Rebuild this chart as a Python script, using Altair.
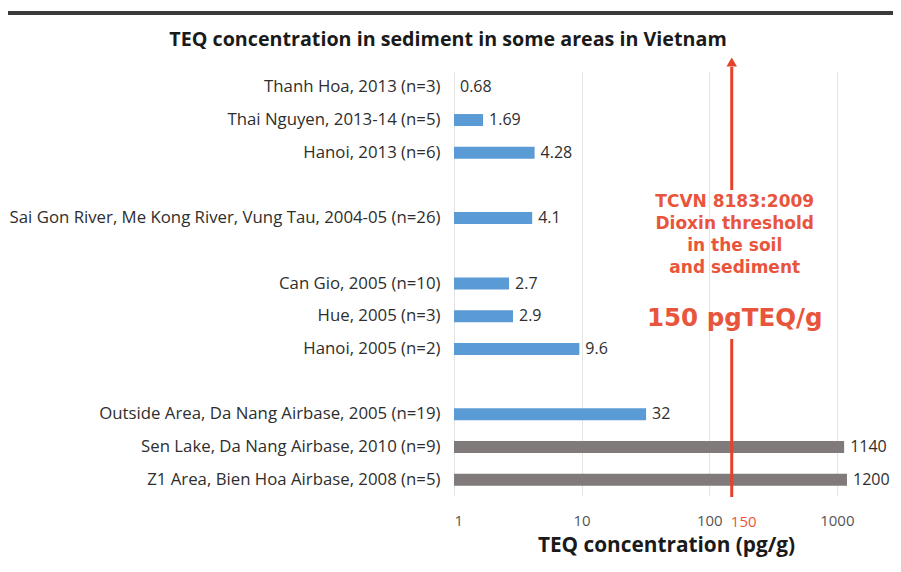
import altair as alt
import pandas as pd

categories = [
    "Thanh Hoa, 2013 (n=3)",
    "Thai Nguyen, 2013-14 (n=5)",
    "Hanoi, 2013 (n=6)",
    "Sai Gon River, Me Kong River, Vung Tau, 2004-05 (n=26)",
    "Can Gio, 2005 (n=10)",
    "Hue, 2005 (n=3)",
    "Hanoi, 2005 (n=2)",
    "Outside Area, Da Nang Airbase, 2005 (n=19)",
    "Sen Lake, Da Nang Airbase, 2010 (n=9)",
    "Z1 Area, Bien Hoa Airbase, 2008 (n=5)",
]
values = [0.68, 1.69, 4.28, 4.1, 2.7, 2.9, 9.6, 32, 1140, 1200]
value_labels = ["0.68", "1.69", "4.28", "4.1", "2.7", "2.9", "9.6", "32", "1140", "1200"]
groups = ["other"] * 8 + ["airbase"] * 2

# row order with blank spacer rows between groups
row_order = (categories[0:3] + [" "] + categories[3:4] + ["  "] +
             categories[4:7] + ["   "] + categories[7:10])

tick_values = [1, 10, 100, 1000]
threshold = 150
threshold_lines = ["TCVN 8183:2009", "Dioxin threshold", "in the soil", "and sediment"]
threshold_big = "150 pgTEQ/g"
title_text = "TEQ concentration in sediment in some areas in Vietnam"
x_title = "TEQ concentration (pg/g)"

df = pd.DataFrame({"cat": categories, "value": values, "label": value_labels, "grp": groups})

FONT = "Open Sans"
RED = "#e5412b"
RED_TXT = "#e9553c"
W, H = 424, 425
PAD_L = 446

xscale = alt.Scale(type="log", domain=[1, 2100], range=[0, W])
yscale = alt.Scale(domain=row_order, paddingInner=0, paddingOuter=0)

base = alt.Chart(df)

bars = base.mark_bar(size=12, clip=True).encode(
    x=alt.X("value:Q", scale=xscale,
            axis=alt.Axis(values=tick_values, format="d", grid=True, gridColor="#e4e4e4",
                          ticks=False, domain=False, labelFont=FONT, labelFontSize=15,
                          labelColor="#555555", labelPadding=17, title=x_title,
                          titleFont=FONT, titleFontSize=20.8, titleFontWeight="bold",
                          titleColor="#1a1a1a", titlePadding=7)),
    x2=alt.datum(1),
    y=alt.Y("cat:N", scale=yscale, sort=row_order,
            axis=alt.Axis(title=None, ticks=False, domain=False, grid=False,
                          labelFont=FONT, labelFontSize=16.8, labelColor="#2e2e2e",
                          labelPadding=14, labelLimit=600)),
    color=alt.Color("grp:N", scale=alt.Scale(domain=["other", "airbase"],
                                             range=["#5b9bd5", "#817a7a"]), legend=None),
)

labels = base.transform_calculate(lx="max(datum.value, 1)").mark_text(
    align="left", baseline="middle", dx=6, font=FONT, fontSize=16, color="#2e2e2e"
).encode(
    x=alt.X("lx:Q", scale=xscale),
    y=alt.Y("cat:N", scale=yscale, sort=row_order),
    text="label:N",
)

line_top = alt.Chart().mark_rule(color=RED, strokeWidth=3).encode(
    x=alt.datum(threshold, scale=xscale), y=alt.value(-4), y2=alt.value(119))
line_bot = alt.Chart().mark_rule(color=RED, strokeWidth=3).encode(
    x=alt.datum(threshold, scale=xscale), y=alt.value(268), y2=alt.value(426))
arrow = alt.Chart().mark_point(shape="triangle-up", filled=True, color=RED, size=110, opacity=1).encode(
    x=alt.datum(threshold, scale=xscale), y=alt.value(-9))

thr_text = alt.Chart().mark_text(
    align="center", baseline="alphabetic", font="DejaVu Sans", fontWeight="bold",
    fontSize=17, lineHeight=22, color=RED_TXT, dx=3
).encode(x=alt.datum(threshold, scale=xscale), y=alt.value(136),
         text=alt.value(threshold_lines))

thr_big = alt.Chart().mark_text(
    align="center", baseline="middle", font="DejaVu Sans", fontWeight="bold",
    fontSize=24.5, color=RED_TXT, dx=3
).encode(x=alt.datum(threshold, scale=xscale), y=alt.value(248),
         text=alt.value(threshold_big))

thr_tick = alt.Chart().mark_text(
    align="center", baseline="middle", font=FONT, fontSize=15, color=RED_TXT, dx=12
).encode(x=alt.datum(threshold, scale=xscale), y=alt.value(451),
         text=alt.value(str(threshold)))

title = alt.Chart().mark_text(
    align="center", baseline="middle", font=FONT, fontSize=19.7, fontWeight="bold", color="#1a1a1a"
).encode(x=alt.value(-6), y=alt.value(-31), text=alt.value(title_text))

frame_top = alt.Chart().mark_rule(color="#3a3a3a", strokeWidth=4).encode(
    x=alt.value(-PAD_L), x2=alt.value(W + 15), y=alt.value(-58))

chart = alt.layer(
    bars, labels, line_top, line_bot, arrow, thr_text, thr_big, thr_tick, title,
    frame_top
).properties(
    width=W, height=H, autosize=alt.AutoSizeParams(type="none"),
    padding={"left": PAD_L, "top": 63, "right": 15, "bottom": 64},
    background="white",
).configure_view(stroke="transparent", strokeWidth=0)

chart.save("out.html", embed_options={"renderer": "svg", "actions": False})
